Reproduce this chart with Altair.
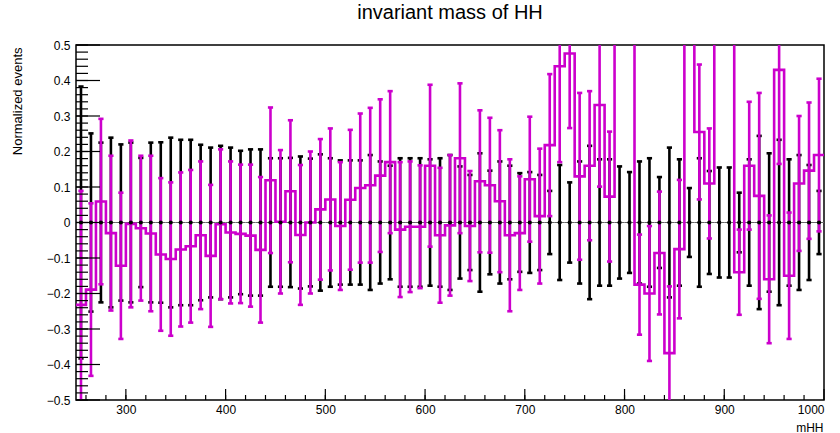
import altair as alt
import pandas as pd

# ---- data ----
bin_low = list(range(250, 1000, 10))          # 75 bins of width 10 in mHH
bin_width = 10

ref_err = [0.383, 0.251, 0.225, 0.239, 0.22, 0.225, 0.182, 0.225, 0.226, 0.239,
           0.233, 0.233, 0.219, 0.211, 0.216, 0.211, 0.202, 0.206, 0.206, 0.181,
           0.181, 0.182, 0.186, 0.18, 0.192, 0.181, 0.175, 0.175, 0.175, 0.19,
           0.172, 0.16, 0.181, 0.181, 0.181, 0.178, 0.181, 0.19, 0.158, 0.134,
           0.195, 0.146, 0.172, 0.16, 0.139, 0.142, 0.134, 0.089, 0.162, 0.113,
           0.172, 0.216, 0.178, 0.178, 0.158, 0.142, 0.172, 0.181, 0.128, 0.211,
           0.178, 0.097, 0.181, 0.145, 0.155, 0.155, 0.084, 0.178, 0.244, 0.195,
           0.233, 0.178, 0.19, 0.162, 0.089]

sig_val = [-0.232, -0.189, 0.059, -0.03, -0.122, -0.004, -0.016, -0.031, -0.09, -0.103,
           -0.076, -0.067, -0.036, -0.094, -0.005, -0.028, -0.032, -0.037, -0.077, 0.119,
           0.002, 0.088, -0.035, 0.0, 0.037, 0.065, -0.01, 0.064, 0.097, 0.105,
           0.132, 0.17, -0.02, -0.012, -0.012, 0.16, -0.036, -0.008, 0.181, -0.01,
           0.116, 0.105, 0.06, -0.036, -0.03, 0.122, 0.018, 0.218, 0.44, 0.476,
           0.13, 0.16, 0.331, 0.073, 0.62, 0.62, -0.175, -0.2, -0.086, -0.368,
           -0.075, 0.62, 0.255, 0.11, 0.62, 0.62, -0.14, 0.16, 0.075, -0.16,
           0.43, -0.15, 0.11, 0.146, 0.19]

sig_err = [0.321, 0.243, 0.233, 0.218, 0.206, 0.235, 0.204, 0.219, 0.215, 0.216,
           0.217, 0.215, 0.208, 0.2, 0.211, 0.2, 0.195, 0.2, 0.205, 0.205,
           0.202, 0.2, 0.197, 0.2, 0.198, 0.2, 0.18, 0.197, 0.21, 0.218,
           0.215, 0.2, 0.19, 0.184, 0.173, 0.228, 0.19, 0.198, 0.211, 0.155,
           0.2, 0.19, 0.2, 0.214, 0.16, 0.176, 0.19, 0.2, 0.27, 0.21,
           0.235, 0.21, 0.23, 0.183, 0.1, 0.1, 0.141, 0.19, 0.173, 0.188,
           0.195, 0.1, 0.19, 0.155, 0.1, 0.1, 0.12, 0.18, 0.29, 0.18,
           0.265, 0.178, 0.19, 0.192, 0.215]

x_major = [300, 400, 500, 600, 700, 800, 900, 1000]
x_minor = list(range(260, 1000, 20))
y_major = [round(-0.5 + 0.1 * i, 2) for i in range(11)]
y_minor = [round(-0.5 + 0.02 * i, 2) for i in range(51)]

MAGENTA = "#cc00cc"
FONT = "Liberation Sans"
W, H = 748, 355

# ---- tables ----
df = pd.DataFrame({"lo": bin_low})
df["hi"] = df["lo"] + bin_width
df["c"] = df["lo"] + bin_width / 2
df["cl"] = df["c"] - 2.6
df["cr"] = df["c"] + 2.6
df["zero"] = 0.0
df["rtop"] = ref_err
df["rbot"] = [-e for e in ref_err]
df["v"] = sig_val
df["stop"] = [v + e for v, e in zip(sig_val, sig_err)]
df["sbot"] = [v - e for v, e in zip(sig_val, sig_err)]

step_rows = []
for i, (lo, v) in enumerate(zip(bin_low, sig_val)):
    step_rows.append({"x": lo, "y": v, "o": 2 * i})
    step_rows.append({"x": lo + bin_width, "y": v, "o": 2 * i + 1})
step = pd.DataFrame(step_rows)

xs = alt.Scale(domain=[250, 1000], nice=False, zero=False)
ys = alt.Scale(domain=[-0.5, 0.5], nice=False, zero=False)

x_axis = alt.Axis(values=x_major, format="d", ticks=False, domain=False, grid=False,
                  labelFont=FONT, labelFontSize=12, labelPadding=4, labelColor="black",
                  labelOverlap=False, labelBound=False,
                  title="mHH", titleFont=FONT, titleFontSize=12, titleFontWeight="normal",
                  titleAnchor="end", titleAlign="right", titleX=W - 1, titleY=27,
                  titleBaseline="middle", titleColor="black")
y_axis = alt.Axis(values=y_major, format=".1~f", ticks=False, domain=False, grid=False,
                  labelFont=FONT, labelFontSize=12, labelPadding=6, labelColor="black",
                  labelOverlap=False,
                  title="Normalized events", titleFont=FONT, titleFontSize=13,
                  titleFontWeight="normal", titleAnchor="end", titleAlign="right",
                  titleAngle=-90, titleX=-59, titleY=2, titleBaseline="middle",
                  titleColor="black")


def X(f):
    return alt.X(f, type="quantitative", scale=xs, axis=x_axis)


def Y(f):
    return alt.Y(f, type="quantitative", scale=ys, axis=y_axis)


base = alt.Chart(df)

zero_line = base.mark_rule(color="#666666", strokeWidth=1.2, strokeDash=[4, 3]).encode(
    x=X("lo"), x2="hi", y=Y("zero"))

ref_bar = base.mark_rule(color="black", strokeWidth=2.6, clip=True).encode(
    x=X("c"), y=Y("rbot"), y2="rtop")
ref_cap_t = base.mark_rule(color="black", strokeWidth=2.6, clip=True).encode(
    x=X("cl"), x2="cr", y=Y("rtop"))
ref_cap_b = base.mark_rule(color="black", strokeWidth=2.6, clip=True).encode(
    x=X("cl"), x2="cr", y=Y("rbot"))

sig_step = alt.Chart(step).mark_line(color=MAGENTA, strokeWidth=2.6, clip=True,
                                     strokeJoin="miter").encode(
    x=X("x"), y=Y("y"), order="o:Q")
sig_bar = base.mark_rule(color=MAGENTA, strokeWidth=2.6, clip=True).encode(
    x=X("c"), y=Y("sbot"), y2="stop")
sig_cap_t = base.mark_rule(color=MAGENTA, strokeWidth=2.6, clip=True).encode(
    x=X("cl"), x2="cr", y=Y("stop"))
sig_cap_b = base.mark_rule(color=MAGENTA, strokeWidth=2.6, clip=True).encode(
    x=X("cl"), x2="cr", y=Y("sbot"))

markers = base.mark_circle(color="black", size=18, opacity=1).encode(
    x=X("c"), y=Y("zero"))

# ROOT-style inward ticks
ytm = alt.Chart(pd.DataFrame({"t": y_major})).mark_rule(color="black", strokeWidth=1.2).encode(
    y=Y("t"), x=alt.value(0), x2=alt.value(24))
ytn = alt.Chart(pd.DataFrame({"t": y_minor})).mark_rule(color="black", strokeWidth=1.2).encode(
    y=Y("t"), x=alt.value(0), x2=alt.value(12))
xtm = alt.Chart(pd.DataFrame({"t": x_major})).mark_rule(color="black", strokeWidth=1.2).encode(
    x=X("t"), y=alt.value(H), y2=alt.value(H - 11))
xtn = alt.Chart(pd.DataFrame({"t": x_minor})).mark_rule(color="black", strokeWidth=1.2).encode(
    x=X("t"), y=alt.value(H), y2=alt.value(H - 5))

chart = alt.layer(
    zero_line, ref_bar, ref_cap_t, ref_cap_b,
    sig_step, sig_bar, sig_cap_t, sig_cap_b,
    markers, ytm, ytn, xtm, xtn,
).properties(
    width=W, height=H,
    background="white",
    title=alt.TitleParams("invariant mass of HH", font=FONT, fontSize=20,
                          fontWeight="normal", anchor="middle", offset=16, color="black"),
    autosize="none",
    padding={"left": 76, "top": 45, "right": 16, "bottom": 33},
).configure_view(stroke="black", strokeWidth=1.5)

chart.save("out.html", embed_options={"renderer": "svg", "actions": False})
